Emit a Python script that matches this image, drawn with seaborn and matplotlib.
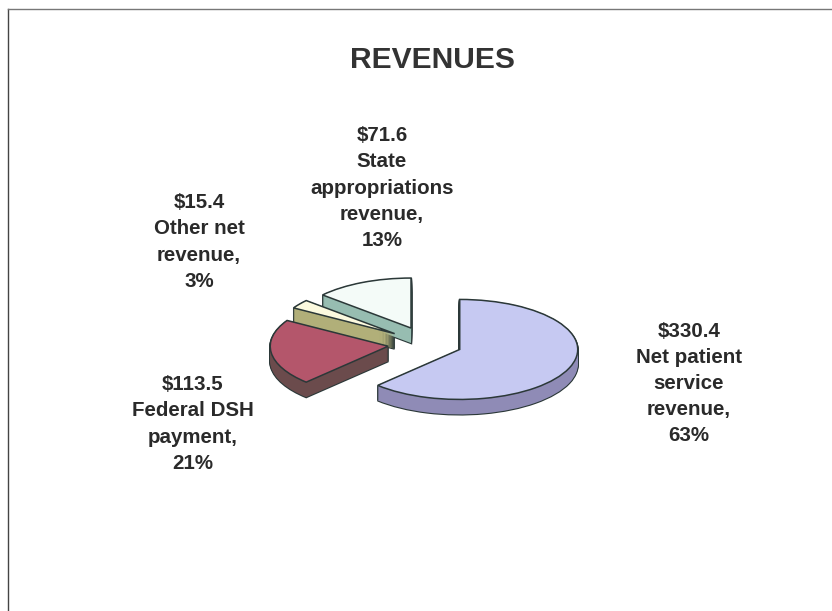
import numpy as np
import matplotlib
matplotlib.use("Agg")
import matplotlib.pyplot as plt
import seaborn as sns

# %% data, clockwise from 12 o'clock
names = ["Net patient\nservice\nrevenue,", "Federal DSH\npayment,", "Other net\nrevenue,", "State\nappropriations\nrevenue,"]
amounts = [330.4, 113.5, 15.4, 71.6]
percents = [63, 21, 3, 13]
title = "REVENUES"

top_colors = ["#C6C9F2", "#B4566B", "#FCFADF", "#F4FBF8"]
side_colors = ["#8F8BB6", "#6B4B4C", "#B1AF79", "#97BDB1"]
explode = [0.29, 0.34, 0.35, 0.35]
edge_color = "#2B3838"

# label centres in pixels
label_x = [689, 193, 199, 382]
label_y = [383.5, 424, 242, 188]

W, H = 832, 611
RX, RY = 118, 50  # pie radii on screen
CX, CY = 428, 344  # pie centre on screen
DEPTH = 15 / RY  # thickness, in pie units
STEPS = 15

# %% figure
sns.set_theme(style="white")
plt.rcParams["font.family"] = ["Liberation Sans", "DejaVu Sans"]
fig = plt.figure(figsize=(W / 100, H / 100), dpi=100, facecolor="white")

# the scanned frame: only left and top lines
frame = fig.add_axes([8 / W, 0, 1 - 8 / W, 1 - 9 / H])
frame.set_xticks([])
frame.set_yticks([])
sns.despine(ax=frame, top=False, right=True, left=False, bottom=True)
frame.spines["left"].set_color("#444444")
frame.spines["top"].set_color("#777777")
frame.spines["left"].set_linewidth(1)
frame.spines["top"].set_linewidth(1)
frame.patch.set_alpha(0)

# %% pie, squashed to look tilted
half_w, half_h = 2.0, 1.6
ax = fig.add_axes([(CX - half_w * RX) / W, 1 - (CY + half_h * RY) / H,
                   2 * half_w * RX / W, 2 * half_h * RY / H])
offsets = np.linspace(-DEPTH, 0, STEPS, endpoint=False)
pie_args = dict(explode=explode, startangle=90, counterclock=False)

# outline of the extruded shape first, then fill over it
for dy in offsets:
    ax.pie(amounts, colors=side_colors, center=(0, dy),
           wedgeprops=dict(edgecolor=edge_color, linewidth=1.6), **pie_args)
for dy in offsets:
    ax.pie(amounts, colors=side_colors, center=(0, dy),
           wedgeprops=dict(edgecolor="none"), **pie_args)

wedges, _ = ax.pie(amounts, colors=top_colors, center=(0, 0),
                   wedgeprops=dict(edgecolor=edge_color, linewidth=1.1), **pie_args)

# vertical corners on the front of the slices
for w in wedges:
    cx, cy = w.center
    for theta in (w.theta1, w.theta2):
        px = cx + w.r * np.cos(np.radians(theta))
        py = cy + w.r * np.sin(np.radians(theta))
        if np.sin(np.radians(theta)) < 0:
            ax.plot([px, px], [py, py - DEPTH], color=edge_color, lw=0.9, zorder=0.5)

ax.set_xlim(-half_w, half_w)
ax.set_ylim(-half_h, half_h)
ax.set_aspect("auto")

# %% text
fig.text(432 / W, 1 - 60 / H, title, ha="center", va="center",
         fontsize=21.6, fontweight="bold", color="#333333")

for name, amount, pct, x, y in zip(names, amounts, percents, label_x, label_y):
    fig.text(x / W, 1 - y / H, f"${amount}\n{name}\n{pct}%", ha="center", va="center",
             multialignment="center", fontsize=14.8, fontweight="bold",
             color="#2A2A2A", linespacing=1.47)

fig.savefig("out.png", dpi=100)
